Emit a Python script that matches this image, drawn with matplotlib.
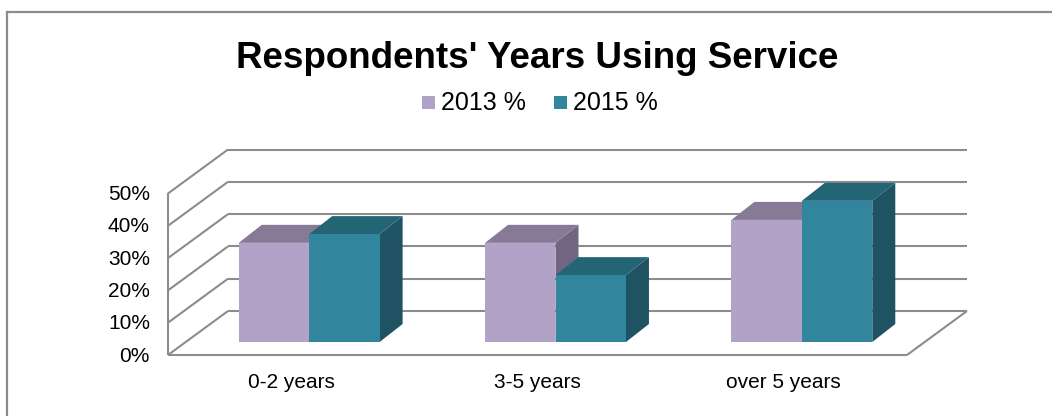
import matplotlib
matplotlib.use('Agg')
import matplotlib.pyplot as plt
from matplotlib.patches import Polygon, Rectangle
from matplotlib.lines import Line2D
from matplotlib.transforms import IdentityTransform
import numpy as np

# ---------------- data ----------------
categories = ['0-2 years', '3-5 years', 'over 5 years']
series_names = ['2013 %', '2015 %']
values_2013 = [0.307, 0.307, 0.378]
values_2015 = [0.334, 0.207, 0.437]
yticks = [0.0, 0.1, 0.2, 0.3, 0.4, 0.5]
ytick_labels = ['0%', '10%', '20%', '30%', '40%', '50%']
title = "Respondents' Years Using Service"

# ---------------- style ----------------
front_colors = ['#B3A2C7', '#31859C']
top_colors = ['#867A97', '#236575']
side_colors = ['#716681', '#1F5263']
grid_color = '#8C8C8C'
FONT = 'Liberation Sans'

W, H, DPI = 1052, 416, 100
fig = plt.figure(figsize=(W / DPI, H / DPI), dpi=DPI)
fig.patch.set_facecolor('white')
# axes = front plane of the bars
ax = fig.add_axes([186 / W, (H - 342) / H, 739 / W, 161.5 / H])
ax.set_xlim(-0.5, 2.5)
ax.set_ylim(0, 0.5)
ax.axis('off')

FLOOR_FRONT = np.array([-18.0, -13.0])
BACK = np.array([42.0, 31.0])
BAR_DEPTH = np.array([23.0, 18.0])
ID = IdentityTransform()


def P(x, y, off=(0.0, 0.0)):
    return ax.transData.transform((x, y)) + np.asarray(off)


def line(p0, p1, z=1):
    ax.add_line(Line2D([p0[0], p1[0]], [p0[1], p1[1]], transform=ID,
                       color=grid_color, lw=1.5, clip_on=False, zorder=z,
                       solid_capstyle='butt'))


x_lo, x_hi = ax.get_xlim()
# back wall gridlines
for v in yticks:
    line(P(x_lo, v, BACK), P(x_hi, v, BACK))
# left wall: diagonals + front vertical
for v in yticks:
    line(P(x_lo, v, FLOOR_FRONT), P(x_lo, v, BACK))
line(P(x_lo, yticks[0], FLOOR_FRONT), P(x_lo, yticks[-1], FLOOR_FRONT))
# floor
line(P(x_lo, 0, FLOOR_FRONT), P(x_hi, 0, FLOOR_FRONT))
line(P(x_hi, 0, FLOOR_FRONT), P(x_hi, 0, BACK))

# bars
bw = 0.286
z = 5
series = [values_2013, values_2015]
for i in range(len(categories)):
    for s, vals in enumerate(series):
        x0 = i - bw if s == 0 else i
        x1 = x0 + bw
        h = vals[i]
        side = [P(x1, 0), P(x1, 0, BAR_DEPTH), P(x1, h, BAR_DEPTH), P(x1, h)]
        top = [P(x0, h), P(x1, h), P(x1, h, BAR_DEPTH), P(x0, h, BAR_DEPTH)]
        ax.add_patch(Polygon(side, closed=True, transform=ID, facecolor=side_colors[s],
                             edgecolor='none', clip_on=False, zorder=z))
        ax.add_patch(Polygon(top, closed=True, transform=ID, facecolor=top_colors[s],
                             edgecolor='none', clip_on=False, zorder=z + 1))
        ax.bar([x0], [h], width=bw, align='edge', color=front_colors[s],
               edgecolor='none', zorder=z + 2, clip_on=False)
        z += 3

# y tick labels
for v, lab in zip(yticks, ytick_labels):
    px, py = P(x_lo, v, FLOOR_FRONT)
    ax.text(150, py - 1, lab, transform=ID, ha='right', va='center',
            fontsize=15, family=FONT, color='black')

# category labels
for i, lab in enumerate(categories):
    px, py = P(i, 0, FLOOR_FRONT)
    ax.text(px, py - 27, lab, transform=ID, ha='center', va='center',
            fontsize=15, family=FONT, color='black')

# title
fig.text(537 / W, (H - 68) / H, title, ha='center', va='baseline',
         fontsize=26.5, fontweight='bold', family=FONT, color='black')

# legend (manual, Excel-style)
leg_x = [422, 554]
for s, name in enumerate(series_names):
    fig.add_artist(Rectangle((leg_x[s], H - 109), 13, 13, transform=ID,
                             facecolor=front_colors[s], edgecolor='none'))
    fig.text((leg_x[s] + 19) / W, (H - 110) / H, name, ha='left', va='baseline',
             fontsize=18, family=FONT, color='black')

# outer chart frame (left and top edges visible)
fig.add_artist(Line2D([7, 7], [0, H - 12], transform=ID, color='#8C8C8C', lw=1.6))
fig.add_artist(Line2D([7, W], [H - 12, H - 12], transform=ID, color='#8C8C8C', lw=1.6))

fig.savefig('out.png', dpi=DPI, facecolor='white')
